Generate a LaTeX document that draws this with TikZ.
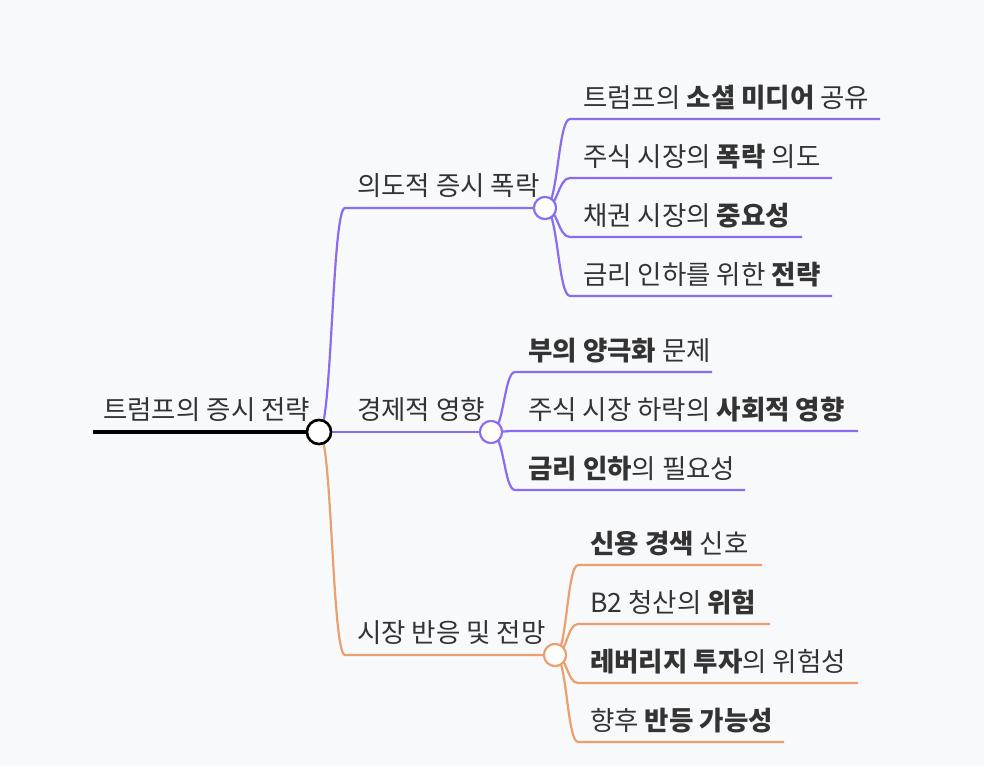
\documentclass[tikz,border=0pt]{standalone}
\usepackage{fontspec}
\setmainfont{Noto Sans CJK KR}
\definecolor{bg}{HTML}{F8F9FB}
\definecolor{pur}{HTML}{8B6BEF}
\definecolor{ora}{HTML}{E9A06E}
\definecolor{txt}{HTML}{333333}
\begin{document}
\begin{tikzpicture}[x=1pt,y=-1pt,
  lbl/.style={anchor=base west,inner sep=0pt,text=txt,font=\fontsize{26.5}{30}\selectfont},
  hub/.style={circle,draw,fill=white,line width=2pt,minimum size=22pt,inner sep=0pt},
  br/.style={line width=2.2pt}]
\fill[bg] (0,0) rectangle (984,766);
\useasboundingbox (0,0) rectangle (984,766);
% root
\coordinate (r0) at (93,432);
\node[hub,draw=black,line width=2.5pt,minimum size=24pt] (root) at (319,432) {};
\draw[line width=4pt] (r0) -- (root.west);
\node[lbl] (rt) at (103,419) {트럼프의 증시 전략};
% branch 1
\node[hub,draw=pur] (h1) at (545,208) {};
\coordinate (b1) at (345,208);
\draw[br,pur] (root.center) .. controls (332,432) and (332,208) .. (b1) -- (h1.west);
\node[lbl] (t1) at (357,195) {의도적 증시 폭락};
% branch 2
\node[hub,draw=pur] (h2) at (491,432) {};
\draw[br,pur] (root.east) -- (h2.west);
\node[lbl] (t2) at (357,419) {경제적 영향};
% branch 3
\node[hub,draw=ora] (h3) at (555,655) {};
\coordinate (b3) at (345,655);
\draw[br,ora] (root.center) .. controls (332,432) and (332,655) .. (b3) -- (h3.west);
\node[lbl] (t3) at (357,642) {시장 반응 및 전망};
\node[hub,draw=black,line width=2.5pt,minimum size=24pt] at (319,432) {};
% children 1
\foreach \y/\e/\t [count=\i] in {119/880/{트럼프의 \textbf{소셜 미디어} 공유},178/832/{주식 시장의 \textbf{폭락} 의도},237/802/{채권 시장의 \textbf{중요성}},296/832/{금리 인하를 위한 \textbf{전략}}}{
  \coordinate (a\i) at (570,\y); \coordinate (e\i) at (\e,\y);
  \draw[br,pur] (h1.center) .. controls (558,208) and (558,\y) .. (a\i) -- (e\i);
  \node[lbl] (c\i) at (583,\y-12) {\t};
}
\node[hub,draw=pur] at (545,208) {};
% children 2
\foreach \y/\e/\t [count=\i] in {372/712/{\textbf{부의 양극화} 문제},431/858/{주식 시장 하락의 \textbf{사회적 영향}},490/745/{\textbf{금리 인하}의 필요성}}{
  \coordinate (m\i) at (515,\y); \coordinate (f\i) at (\e,\y);
  \draw[br,pur] (h2.center) .. controls (504,432) and (504,\y) .. (m\i) -- (f\i);
  \node[lbl] (d\i) at (528,\y-12) {\t};
}
\node[hub,draw=pur] at (491,432) {};
% children 3
\foreach \y/\e/\t [count=\i] in {565/762/{\textbf{신용 경색} 신호},624/770/{B2 청산의 \textbf{위험}},683/858/{\textbf{레버리지 투자}의 위험성},742/784/{향후 \textbf{반등 가능성}}}{
  \coordinate (n\i) at (578,\y); \coordinate (g\i) at (\e,\y);
  \draw[br,ora] (h3.center) .. controls (567,655) and (567,\y) .. (n\i) -- (g\i);
  \node[lbl] (k\i) at (590,\y-12) {\t};
}
\node[hub,draw=ora] at (555,655) {};
\end{tikzpicture}
\end{document}
